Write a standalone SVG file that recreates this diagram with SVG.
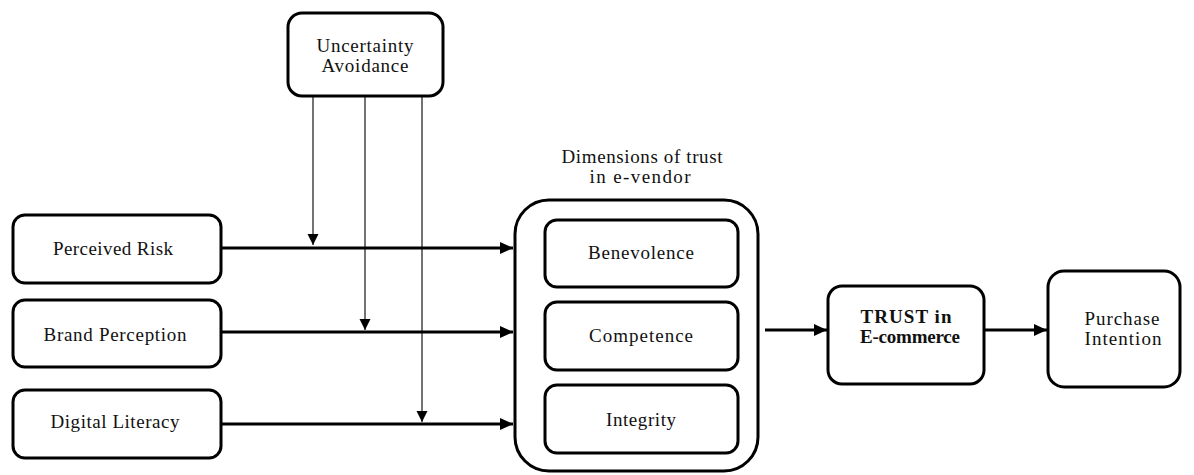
<svg xmlns="http://www.w3.org/2000/svg" width="1194" height="475" viewBox="0 0 1194 475">
<defs>
<marker id="ah" markerUnits="userSpaceOnUse" markerWidth="14" markerHeight="12" refX="13" refY="6" orient="auto"><path d="M0,0 L13,6 L0,12 Z" fill="#000"/></marker>
<marker id="ahs" markerUnits="userSpaceOnUse" markerWidth="12" markerHeight="12" refX="11" refY="5.5" orient="auto"><path d="M0,0 L11,5.5 L0,11 Z" fill="#000"/></marker>
</defs>
<style>
.box{fill:#fff;stroke:#000;stroke-width:3}
.t{font-family:"Liberation Serif","Times New Roman",serif;font-size:19px;fill:#111;text-anchor:middle}
.b{font-weight:bold}
.h{fill:none;stroke:#000;stroke-width:3}
.v{fill:none;stroke:#444;stroke-width:1.5}
</style>
<rect width="1194" height="475" fill="#fff"/>
<g id="connectors">
<path class="v" d="M313,96 V245" marker-end="url(#ahs)"/>
<path class="v" d="M365,96 V330" marker-end="url(#ahs)"/>
<path class="v" d="M422,96 V422" marker-end="url(#ahs)"/>
<path class="h" d="M221,248 H513" marker-end="url(#ah)"/>
<path class="h" d="M221,332 H513" marker-end="url(#ah)"/>
<path class="h" d="M221,424 H513" marker-end="url(#ah)"/>
<path class="h" d="M765,330 H827" marker-end="url(#ah)"/>
<path class="h" d="M985,330 H1047" marker-end="url(#ah)"/>
</g>
<g id="uncertainty">
<rect class="box" x="288" y="13" width="155" height="83" rx="14"/>
<text class="t" x="365" y="52" textLength="97" lengthAdjust="spacing">Uncertainty</text>
<text class="t" x="365" y="72" textLength="87" lengthAdjust="spacing">Avoidance</text>
</g>
<g id="perceived-risk">
<rect class="box" x="13" y="215" width="208" height="68" rx="12"/>
<text class="t" x="113" y="255" textLength="120" lengthAdjust="spacing">Perceived Risk</text>
</g>
<g id="brand-perception">
<rect class="box" x="13" y="300" width="208" height="67" rx="12"/>
<text class="t" x="115" y="341" textLength="143" lengthAdjust="spacing">Brand Perception</text>
</g>
<g id="digital-literacy">
<rect class="box" x="13" y="390" width="208" height="68" rx="12"/>
<text class="t" x="115" y="428" textLength="129" lengthAdjust="spacing">Digital Literacy</text>
</g>
<g id="dimensions">
<text class="t" x="642" y="163" textLength="161" lengthAdjust="spacing">Dimensions of trust</text>
<text class="t" x="640" y="183" textLength="101" lengthAdjust="spacing">in e-vendor</text>
<rect class="box" x="515" y="200" width="243" height="271" rx="34"/>
</g>
<g id="benevolence">
<rect class="box" x="545" y="220" width="193" height="67" rx="12"/>
<text class="t" x="641" y="259" textLength="106" lengthAdjust="spacing">Benevolence</text>
</g>
<g id="competence">
<rect class="box" x="545" y="302" width="193" height="68" rx="12"/>
<text class="t" x="641" y="342" textLength="104" lengthAdjust="spacing">Competence</text>
</g>
<g id="integrity">
<rect class="box" x="545" y="385" width="193" height="68" rx="12"/>
<text class="t" x="641" y="426" textLength="70" lengthAdjust="spacing">Integrity</text>
</g>
<g id="trust">
<rect class="box" x="828" y="286" width="156" height="98" rx="14"/>
<text class="t b" x="906" y="323" textLength="91" lengthAdjust="spacing">TRUST in</text>
<text class="t b" x="910" y="343" textLength="100" lengthAdjust="spacing">E-commerce</text>
</g>
<g id="purchase">
<rect class="box" x="1048" y="271" width="132" height="116" rx="16"/>
<text class="t" x="1122" y="325" textLength="75" lengthAdjust="spacing">Purchase</text>
<text class="t" x="1123" y="345" textLength="77" lengthAdjust="spacing">Intention</text>
</g>
</svg>
